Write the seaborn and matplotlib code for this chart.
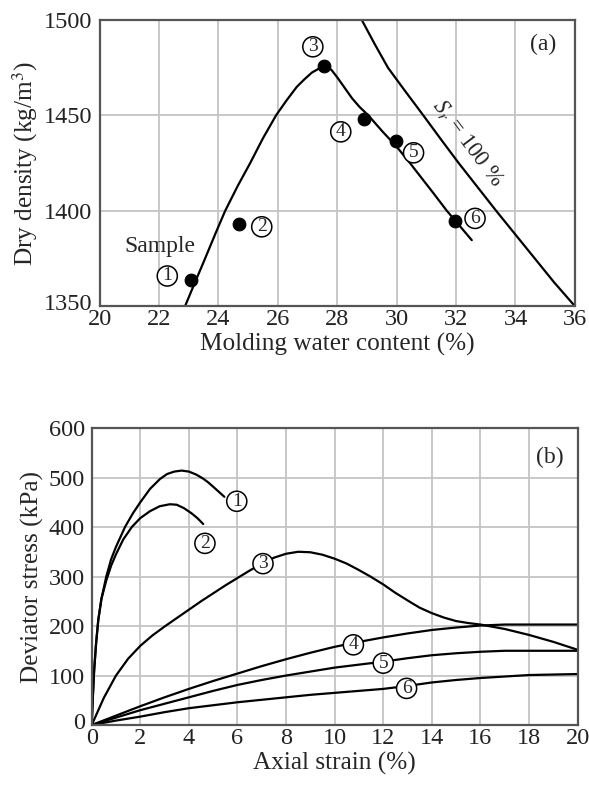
import matplotlib
matplotlib.use("Agg")
import matplotlib.pyplot as plt
import matplotlib.transforms as mtransforms
import seaborn as sns

# (a) compaction data
sample_w = [23.07, 24.70, 27.56, 28.91, 29.97, 31.97]
sample_rho = [1363.7, 1393.0, 1476.0, 1448.3, 1436.7, 1394.8]
sample_ids = ["1", "2", "3", "4", "5", "6"]
label_w = [22.28, 25.46, 27.18, 28.12, 30.57, 32.64]
label_rho = [1365.8, 1391.6, 1486.0, 1441.4, 1430.4, 1396.0]

curve_w = [22.88, 23.2, 23.5, 23.9, 24.23, 24.65, 25.07, 25.5, 25.94, 26.3,
           26.64, 26.9, 27.15, 27.4, 27.6, 27.8, 28.0, 28.25, 28.5, 28.75,
           29.05, 29.5, 30.0, 30.4, 30.8, 31.25, 31.69, 32.1, 32.53]
curve_rho = [1350, 1362, 1373, 1388, 1400, 1413, 1425, 1438, 1450, 1458,
             1465, 1469, 1472.5, 1474.7, 1475.5, 1474, 1470, 1464.5, 1459, 1454.5,
             1450, 1442, 1433.6, 1426, 1418, 1409, 1400, 1392.5, 1384.6]

sat_w = [28.83, 29.26, 29.71, 30.3, 30.9, 31.49, 32.09, 32.72, 33.35, 34.0,
         34.65, 35.3, 36.0]
sat_rho = [1500, 1487.5, 1475, 1462.5, 1450, 1437.5, 1425, 1412.5, 1400, 1387.5,
           1375, 1362.5, 1350]

# (b) stress-strain curves
strain_1 = [0, 0.05, 0.1, 0.18, 0.27, 0.4, 0.6, 0.8, 1.0, 1.37, 1.7, 2.0, 2.4,
            2.81, 3.1, 3.4, 3.7, 4.0, 4.3, 4.58, 4.8, 5.1, 5.46]
stress_1 = [0, 60, 110, 165, 212, 255, 300, 335, 360, 400, 428, 450, 477,
            497, 507, 512, 514, 512, 506, 498, 490, 477, 461]
strain_2 = [0, 0.05, 0.1, 0.18, 0.27, 0.4, 0.6, 0.8, 1.0, 1.3, 1.65, 2.0, 2.4,
            2.8, 3.22, 3.5, 3.8, 4.1, 4.35, 4.59]
stress_2 = [0, 60, 110, 165, 212, 255, 292, 322, 345, 375, 400, 418, 432,
            442, 446, 445, 438, 428, 418, 406]
strain_3 = [0, 0.5, 1.0, 1.5, 2.0, 2.5, 3.0, 3.5, 4.0, 4.5, 5.0, 5.5, 6.0, 6.5,
            7.0, 7.5, 8.0, 8.5, 9.0, 9.5, 10, 10.5, 11, 11.47, 12, 12.5, 13.09,
            13.5, 14, 14.5, 15, 15.5, 16, 17, 18, 19, 20]
stress_3 = [0, 55, 100, 134, 160, 181, 199, 216, 233, 250, 266, 282, 297, 312,
            326, 338, 346, 350, 349, 344, 336, 326, 313, 300, 284, 267, 249, 237,
            226, 217, 210, 206, 203, 194, 182, 168, 152]
strain_4 = [0, 1, 2, 3, 4, 5, 6, 7, 8, 9, 10, 11, 12, 13, 14, 15, 16, 17, 18, 20]
stress_4 = [0, 19, 38, 56, 73, 89, 104, 119, 133, 146, 158, 168, 177, 185, 192,
            197, 201, 203, 203, 203]
strain_5 = [0, 1, 2, 3, 4, 5, 6, 7, 8, 9, 10, 11, 12, 13, 14, 15, 16, 17, 18, 20]
stress_5 = [0, 15, 30, 43, 56, 69, 81, 91, 100, 108, 116, 122, 128, 135, 141,
            145, 148, 150, 150, 150]
strain_6 = [0, 1, 2, 3, 4, 5, 6, 7, 8, 9, 10, 11, 12, 13, 14, 15, 16, 17, 18,
            19, 20]
stress_6 = [0, 9, 17, 26, 34, 40, 46, 51, 56, 61, 65, 69, 73, 79, 86, 91, 95,
            98, 101, 102, 103]
curve_label_x = [5.97, 4.66, 7.05, 10.77, 12.0, 12.96]
curve_label_y = [452, 367, 326, 162, 125, 74]

sns.set_theme(style="whitegrid")
plt.rcParams["font.family"] = ["Liberation Serif", "DejaVu Serif"]
plt.rcParams["mathtext.fontset"] = "stix"

fig = plt.figure(figsize=(5.89, 7.91), dpi=100)
ax1 = fig.add_axes([0.169, 0.613, 0.807, 0.3616])
ax2 = fig.add_axes([0.1557, 0.0834, 0.825, 0.3755])

circ = dict(boxstyle="circle,pad=0.08", fc="white", ec="black", lw=1.1)

def style_axes(ax):
    ax.grid(True, color="#c4c4c4", lw=1.3)
    for s in ax.spines.values():
        s.set_color("#555555")
        s.set_linewidth(1.6)
    ax.tick_params(axis="both", labelsize=17.5, length=0, colors="#222222")
    ax.tick_params(axis="y", pad=5)
    ax.tick_params(axis="x", pad=2)

# ---- panel (a)
sns.lineplot(x=curve_w, y=curve_rho, sort=False, estimator=None, color="black",
             lw=1.6, ax=ax1)
sns.lineplot(x=sat_w, y=sat_rho, sort=False, estimator=None, color="black",
             lw=1.6, ax=ax1)
sns.scatterplot(x=sample_w, y=sample_rho, color="black", s=85, edgecolor="black",
                zorder=5, ax=ax1)
for lx, ly, t in zip(label_w, label_rho, sample_ids):
    ax1.text(lx, ly, t, ha="center", va="center", fontsize=14, bbox=circ, zorder=6)
ax1.text(22.04, 1381.5, "Sample", ha="center", va="center", fontsize=17)
ax1.text(34.92, 1487, "(a)", ha="center", va="center", fontsize=17)
ax1.text(32.4, 1436, r"$S_r$ = 100 %", ha="center", va="center", fontsize=16.5,
         rotation=-53)
ax1.set_xlim(20, 36)
ax1.set_ylim(1350, 1500)
ax1.set_xticks(range(20, 37, 2))
ax1.set_yticks([1350, 1400, 1450, 1500])
ax1.set_xlabel("Molding water content (%)", fontsize=18.2, labelpad=2)
ax1.set_ylabel("Dry density (kg/m$^3$)", fontsize=18.2, labelpad=3)
style_axes(ax1)

# ---- panel (b)
curves = [(strain_1, stress_1), (strain_2, stress_2), (strain_3, stress_3),
          (strain_4, stress_4), (strain_5, stress_5), (strain_6, stress_6)]
for xs, ys in curves:
    sns.lineplot(x=xs, y=ys, sort=False, estimator=None, color="black", lw=1.6,
                 ax=ax2)
for lx, ly, t in zip(curve_label_x, curve_label_y, sample_ids):
    ax2.text(lx, ly, t, ha="center", va="center", fontsize=14, bbox=circ, zorder=6)
ax2.text(18.86, 541, "(b)", ha="center", va="center", fontsize=17)
ax2.set_xlim(0, 20)
ax2.set_ylim(0, 600)
ax2.set_xticks(range(0, 21, 2))
ax2.set_yticks(range(0, 601, 100))
ax2.set_xlabel("Axial strain (%)", fontsize=18.2, labelpad=2)
ax2.set_ylabel("Deviator stress (kPa)", fontsize=18.2, labelpad=3)
style_axes(ax2)

# lift the lowest y tick labels a little so they sit above the first x label
lift = mtransforms.ScaledTranslation(0, 3 / 72, fig.dpi_scale_trans)
for ax in (ax1, ax2):
    lab = ax.get_yticklabels()[0]
    lab.set_transform(lab.get_transform() + lift)

fig.savefig("out.png", dpi=100, facecolor="white")
